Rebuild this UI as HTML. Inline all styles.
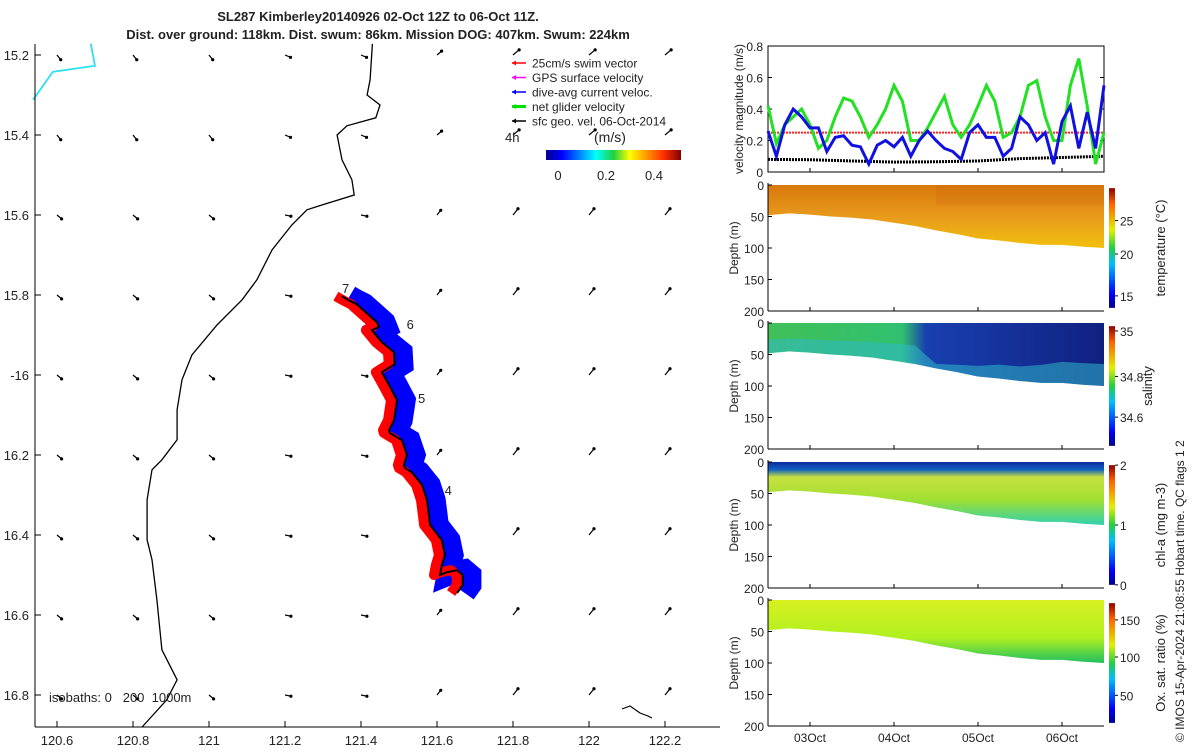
<!DOCTYPE html>
<html><head><meta charset="utf-8"><style>
body{margin:0;background:#fff;width:1200px;height:750px;overflow:hidden}
svg{font-family:"Liberation Sans","DejaVu Sans",sans-serif}
text{fill:#222}
</style></head><body>
<svg id="s" width="1200" height="750" viewBox="0 0 1200 750" xmlns="http://www.w3.org/2000/svg">
<defs>
<linearGradient id="jetH" x1="0" x2="1" y1="0" y2="0">
<stop offset="0" stop-color="#00008f"/><stop offset="0.12" stop-color="#0000ff"/><stop offset="0.37" stop-color="#00ffff"/><stop offset="0.5" stop-color="#20d040"/><stop offset="0.62" stop-color="#ffff00"/><stop offset="0.87" stop-color="#ff3000"/><stop offset="1" stop-color="#800000"/></linearGradient>
<linearGradient id="jetV" x1="0" x2="0" y1="1" y2="0">
<stop offset="0" stop-color="#00008f"/><stop offset="0.12" stop-color="#0000ff"/><stop offset="0.37" stop-color="#00c0ff"/><stop offset="0.5" stop-color="#20d040"/><stop offset="0.65" stop-color="#e0f000"/><stop offset="0.87" stop-color="#ff6000"/><stop offset="1" stop-color="#900000"/></linearGradient>
<linearGradient id="gT" x1="0" x2="0" y1="0" y2="1"><stop offset="0" stop-color="#d8780c"/><stop offset="0.5" stop-color="#e89a1c"/><stop offset="1" stop-color="#f2c00c"/></linearGradient>
<linearGradient id="gS" x1="0" x2="1" y1="0" y2="0"><stop offset="0" stop-color="#40c058"/><stop offset="0.4" stop-color="#30c070"/><stop offset="0.47" stop-color="#1840b0"/><stop offset="1" stop-color="#102080"/></linearGradient>
<linearGradient id="gC" x1="0" x2="0" y1="0" y2="1"><stop offset="0" stop-color="#0a2aa0"/><stop offset="0.12" stop-color="#1060c0"/><stop offset="0.24" stop-color="#c8e040"/><stop offset="0.6" stop-color="#a0e030"/><stop offset="1" stop-color="#30d0b0"/></linearGradient>
<linearGradient id="gO" x1="0" x2="0" y1="0" y2="1"><stop offset="0" stop-color="#d8f020"/><stop offset="0.6" stop-color="#b0f020"/><stop offset="1" stop-color="#20c060"/></linearGradient>
</defs>
<text x="378" y="21" font-size="13" font-weight="bold" text-anchor="middle">SL287 Kimberley20140926 02-Oct 12Z to 06-Oct 11Z.</text>
<text x="378" y="39" font-size="13" font-weight="bold" text-anchor="middle">Dist. over ground: 118km. Dist. swum: 86km. Mission DOG: 407km. Swum: 224km</text>
<g id="map"></g>
<g id="vel"></g>
<g id="sec"></g>
<text transform="translate(1184,742) rotate(-90)" font-size="12">© IMOS 15-Apr-2024 21:08:55 Hobart time. QC flags 1  2</text>
</svg>
<script>
// ---------- data ----------
const lonTicks=[120.6,120.8,121,121.2,121.4,121.6,121.8,122,122.2];
const latTicks=[15.2,15.4,15.6,15.8,16,16.2,16.4,16.6,16.8];
const latLabels=["15.2","15.4","15.6","15.8","-16","16.2","16.4","16.6","16.8"];
const trackLon=[121.35,121.368,121.389,121.442,121.447,121.429,121.455,121.487,121.489,121.455,121.474,121.495,121.487,121.474,121.476,121.508,121.521,121.513,121.516,121.534,121.561,121.574,121.579,121.582,121.613,121.621,121.613,121.608,121.626,121.653,121.668,121.668,121.653];
const trackLat=[15.803,15.813,15.823,15.868,15.88,15.888,15.918,15.943,15.973,15.993,16.025,16.063,16.113,16.138,16.145,16.163,16.2,16.225,16.233,16.243,16.275,16.313,16.35,16.375,16.413,16.45,16.475,16.5,16.493,16.488,16.5,16.525,16.545];
const coastLon=[121.43,121.424,121.416,121.45,121.439,121.363,121.337,121.35,121.376,121.382,121.297,121.258,121.218,121.166,121.126,121.087,121.021,120.955,120.929,120.916,120.916,120.876,120.85,120.837,120.837,120.85,120.863,120.876,120.916,120.889,120.824];
const coastLat=[15.172,15.262,15.3,15.325,15.357,15.377,15.4,15.462,15.512,15.55,15.575,15.587,15.625,15.687,15.762,15.812,15.875,15.95,16.012,16.087,16.162,16.212,16.237,16.312,16.412,16.462,16.562,16.687,16.762,16.812,16.88];
const cyanLon=[120.537,120.589,120.7,120.689];
const cyanLat=[15.312,15.242,15.227,15.172];
const days=[0,0.1,0.2,0.3,0.4,0.5,0.6,0.7,0.8,0.9,1,1.1,1.2,1.3,1.4,1.5,1.6,1.7,1.8,1.9,2,2.1,2.2,2.3,2.4,2.5,2.6,2.7,2.8,2.9,3,3.1,3.2,3.3,3.4,3.5,3.6,3.7,3.8,3.9,4];
const netVel=[0.42,0.18,0.3,0.35,0.4,0.3,0.15,0.2,0.35,0.47,0.45,0.35,0.22,0.3,0.4,0.55,0.45,0.2,0.2,0.28,0.38,0.48,0.3,0.22,0.3,0.42,0.55,0.45,0.22,0.25,0.35,0.55,0.58,0.35,0.2,0.2,0.55,0.72,0.42,0.05,0.25];
const curVel=[0.26,0.1,0.3,0.4,0.35,0.28,0.28,0.13,0.22,0.23,0.17,0.16,0.05,0.17,0.2,0.16,0.22,0.1,0.2,0.26,0.2,0.15,0.13,0.08,0.25,0.3,0.22,0.22,0.1,0.15,0.35,0.3,0.2,0.25,0.05,0.32,0.42,0.15,0.38,0.15,0.55];
const sfcDays=[0,0.5,1,1.5,2,2.5,3,3.5,4];
const sfcVel=[0.08,0.078,0.07,0.063,0.065,0.07,0.085,0.092,0.1];
const swimVel=0.25;
const velTicks=[0,0.2,0.4,0.6,0.8];
const dateLabels=["03Oct","04Oct","05Oct","06Oct"];
const dateDays=[0.5,1.5,2.5,3.5];
const depthDays=[0,0.25,0.5,0.75,1,1.25,1.5,1.75,2,2.25,2.5,2.75,3,3.25,3.5,3.75,4];
const bottomDepth=[48,45,47,50,52,55,60,65,72,78,85,88,92,95,95,98,100];
const depthTicks=[0,50,100,150,200];
// ---------- helpers ----------
const NS="http://www.w3.org/2000/svg";
function mk(parent,tag,attrs,text){const e=document.createElementNS(NS,tag);for(const k in attrs)e.setAttribute(k,attrs[k]);if(text!==undefined)e.textContent=text;parent.appendChild(e);return e;}
const mx=lon=>57+(lon-120.6)*380, my=lat=>55+(lat-15.2)*400;
const map=document.getElementById('map');
for(let i=0;i<lonTicks.length;i++)for(let j=0;j<latTicks.length;j++){
 const x=mx(lonTicks[i]),y=my(latTicks[j]);
 const ang=(i<3?0.7:i<5?0.2:-0.9)+(j<2?0.2:0);const L=(i>5?8:6);
 const x2=x+Math.cos(ang)*L,y2=y+Math.sin(ang)*L;
 const a=mk(map,'g',{});
 
 
 mk(a,'line',{x1:x,y1:y,x2:x2,y2:y2,stroke:'#000','stroke-width':1.2});
 mk(a,'circle',{cx:x2,cy:y2,r:1.6,fill:'#000'});
}
function poly(lons,lats){return lons.map((v,i)=>mx(v).toFixed(1)+','+my(lats[i]).toFixed(1)).join(' ');}
let e=mk(map,'polyline',{points:poly(coastLon,coastLat),fill:'none',stroke:'#000','stroke-width':1.3});

e=mk(map,'polyline',{points:poly(cyanLon,cyanLat),fill:'none',stroke:'#30e0f0','stroke-width':1.8});

e=mk(map,'polyline',{points:'622,709 630,706 640,713 648,716 652,718',fill:'none',stroke:'#000','stroke-width':1.2});

e=mk(map,'polyline',{points:poly(trackLon.map(v=>v+0.02),trackLat),fill:'none',stroke:'#0000ff','stroke-width':22,'stroke-linejoin':'miter'});

e=mk(map,'polyline',{points:poly(trackLon.map(v=>v-0.016),trackLat),fill:'none',stroke:'#ff0000','stroke-width':10,'stroke-linejoin':'round'});

e=mk(map,'polyline',{points:poly(trackLon,trackLat),fill:'none',stroke:'#000','stroke-width':2});

[["7",121.35,15.795],["6",121.52,15.885],["5",121.55,16.07],["4",121.62,16.3]].forEach(d=>{
 const t=mk(map,'text',{x:mx(d[1]),y:my(d[2]),'font-size':13},d[0]);
 });
mk(map,'line',{x1:35,y1:44,x2:35,y2:727,stroke:'#000'});
mk(map,'line',{x1:35,y1:727,x2:720,y2:727,stroke:'#000'});
lonTicks.forEach(v=>{const x=mx(v);mk(map,'line',{x1:x,y1:727,x2:x,y2:721,stroke:'#000'});
 const t=mk(map,'text',{x:x,y:745,'font-size':13,'text-anchor':'middle'},String(v));
 });
latTicks.forEach((v,i)=>{const y=my(v);mk(map,'line',{x1:35,y1:y,x2:41,y2:y,stroke:'#000'});
 const t=mk(map,'text',{x:29,y:y+5,'font-size':13,'text-anchor':'end'},latLabels[i]);
 });
e=mk(map,'text',{x:49,y:702,'font-size':13,style:'white-space:pre'},'isobaths: 0   200  1000m');

const leg=[["#ff0000","25cm/s swim vector"],["#ff00ff","GPS surface velocity"],["#0000ff","dive-avg current veloc."],["#00e000","net glider velocity"],["#000","sfc geo. vel. 06-Oct-2014"]];
leg.forEach((l,i)=>{const y=63+i*14.5;const g=mk(map,'g',{});
 
 mk(g,'line',{x1:512,y1:y,x2:526,y2:y,stroke:l[0],'stroke-width':i==3?3:1.5});
 mk(g,'path',{d:`M512 ${y} l4 -2.5 v5z`,fill:l[0]});
 mk(g,'text',{x:532,y:y+4.5,'font-size':12},l[1]);});
e=mk(map,'text',{x:505,y:142,'font-size':13},'4h');
e=mk(map,'text',{x:594,y:142,'font-size':14},'(m/s)');
e=mk(map,'rect',{x:546,y:150,width:135,height:10,fill:'url(#jetH)'});
[[0,558],[0.2,606],[0.4,654]].forEach(d=>{const t=mk(map,'text',{x:d[1],y:180,'font-size':13,'text-anchor':'middle'},String(d[0]));
 });
// ---------- velocity panel ----------
const vel=document.getElementById('vel');
const tx=d=>768+d*84, vy=v=>172-v*157.5;
mk(vel,'rect',{x:768,y:46,width:336,height:126,fill:'none',stroke:'#000'});
velTicks.forEach(v=>{mk(vel,'line',{x1:768,y1:vy(v),x2:772,y2:vy(v),stroke:'#000'});mk(vel,'line',{x1:1100,y1:vy(v),x2:1104,y2:vy(v),stroke:'#000'});
 const t=mk(vel,'text',{x:763,y:vy(v)+5,'font-size':12,'text-anchor':'end'},String(v));
 });
dateDays.forEach(d=>{mk(vel,'line',{x1:tx(d),y1:172,x2:tx(d),y2:168,stroke:'#000'});});
e=mk(vel,'text',{transform:'translate(743,109) rotate(-90)','font-size':12,'text-anchor':'middle'},'velocity magnitude (m/s)');

e=mk(vel,'line',{x1:tx(0),y1:vy(swimVel),x2:tx(4),y2:vy(swimVel),stroke:'#ff2020','stroke-width':2,'stroke-dasharray':'2 1'});

e=mk(vel,'polyline',{points:sfcDays.map((d,i)=>tx(d)+','+vy(sfcVel[i])).join(' '),fill:'none',stroke:'#000','stroke-width':3,'stroke-dasharray':'2 1'});

e=mk(vel,'polyline',{points:days.map((d,i)=>tx(d)+','+vy(netVel[i])).join(' '),fill:'none',stroke:'#22e022','stroke-width':3});

e=mk(vel,'polyline',{points:days.map((d,i)=>tx(d)+','+vy(curVel[i])).join(' '),fill:'none',stroke:'#1010e0','stroke-width':3});

// ---------- sections ----------
const sec=document.getElementById('sec');
const panels=[{top:185,fill:'url(#gT)',name:'temperature',label:'temperature (°C)',ticks:[[25,0.73],[20,0.45],[15,0.1]]},
{top:323,fill:'url(#gS)',name:'salinity',label:'salinity',ticks:[[35,0.96],[34.8,0.58],[34.6,0.24]]},
{top:462,fill:'url(#gC)',name:'chl-a',label:'chl-a (mg m-3)',ticks:[[2,1],[1,0.5],[0,0]]},
{top:600,fill:'url(#gO)',name:'oxygen',label:'Ox. sat. ratio (%)',ticks:[[150,0.86],[100,0.55],[50,0.23]]}];
panels.forEach((p,pi)=>{
 const dy=d=>p.top+d*0.63;
 const g=mk(sec,'g',{});
 
 
 let pts=tx(0)+','+dy(0)+' '+tx(4)+','+dy(0)+' ';
 for(let i=depthDays.length-1;i>=0;i--)pts+=tx(depthDays[i])+','+dy(bottomDepth[i])+' ';
 mk(g,'polygon',{points:pts,fill:p.fill});
 if(pi==1){const off=[0,0,0,0,0,0,0,0,0.35,0.3,0.25,0.2,0.2,0.15,0.1,0.1,0.1];
  const p2=depthDays.map((d,i)=>tx(d)+','+dy(bottomDepth[i]*(0.55+off[i]))).join(' ')+' '+depthDays.slice().reverse().map((d,i)=>tx(d)+','+dy(bottomDepth[depthDays.length-1-i])).join(' ');
  mk(g,'polygon',{points:p2,fill:'#30b8c8',opacity:0.55});}
 if(pi==0){mk(g,'rect',{x:tx(2),y:dy(0),width:tx(4)-tx(2),height:20,fill:'#c86008',opacity:0.2});}
 mk(g,'line',{x1:768,y1:p.top-2,x2:768,y2:dy(200),stroke:'#000'});
 mk(g,'line',{x1:768,y1:dy(200),x2:1104,y2:dy(200),stroke:'#000'});
 dateDays.forEach(d=>mk(g,'line',{x1:tx(d),y1:dy(200),x2:tx(d),y2:dy(200)-4,stroke:'#000'}));
 depthTicks.forEach(v=>{mk(g,'line',{x1:768,y1:dy(v),x2:772,y2:dy(v),stroke:'#000'});
  const t=mk(g,'text',{x:764,y:dy(v)+5,'font-size':12,'text-anchor':'end'},String(v));
  });
 const t=mk(g,'text',{transform:`translate(738,${dy(100)}) rotate(-90)`,'font-size':12,'text-anchor':'middle'},'Depth (m)');
 
 const cb=mk(g,'rect',{x:1109,y:dy(5),width:6,height:dy(195)-dy(5),fill:'url(#jetV)'});
 
 p.ticks.forEach(tk=>{const y=dy(195)-tk[1]*(dy(195)-dy(5));
  mk(g,'line',{x1:1115,y1:y,x2:1118,y2:y,stroke:'#000'});
  const tt=mk(g,'text',{x:1120,y:y+5,'font-size':12},String(tk[0]));
  });
 const lb=mk(g,'text',{transform:`translate(${pi==1?1152:1165},${dy(100)}) rotate(-90)`,'font-size':13,'text-anchor':'middle'},p.label);
 
});
dateLabels.forEach((l,i)=>{const t=mk(sec,'text',{x:tx(dateDays[i]),y:742,'font-size':12,'text-anchor':'middle'},l);
 });
</script>
</body></html>
